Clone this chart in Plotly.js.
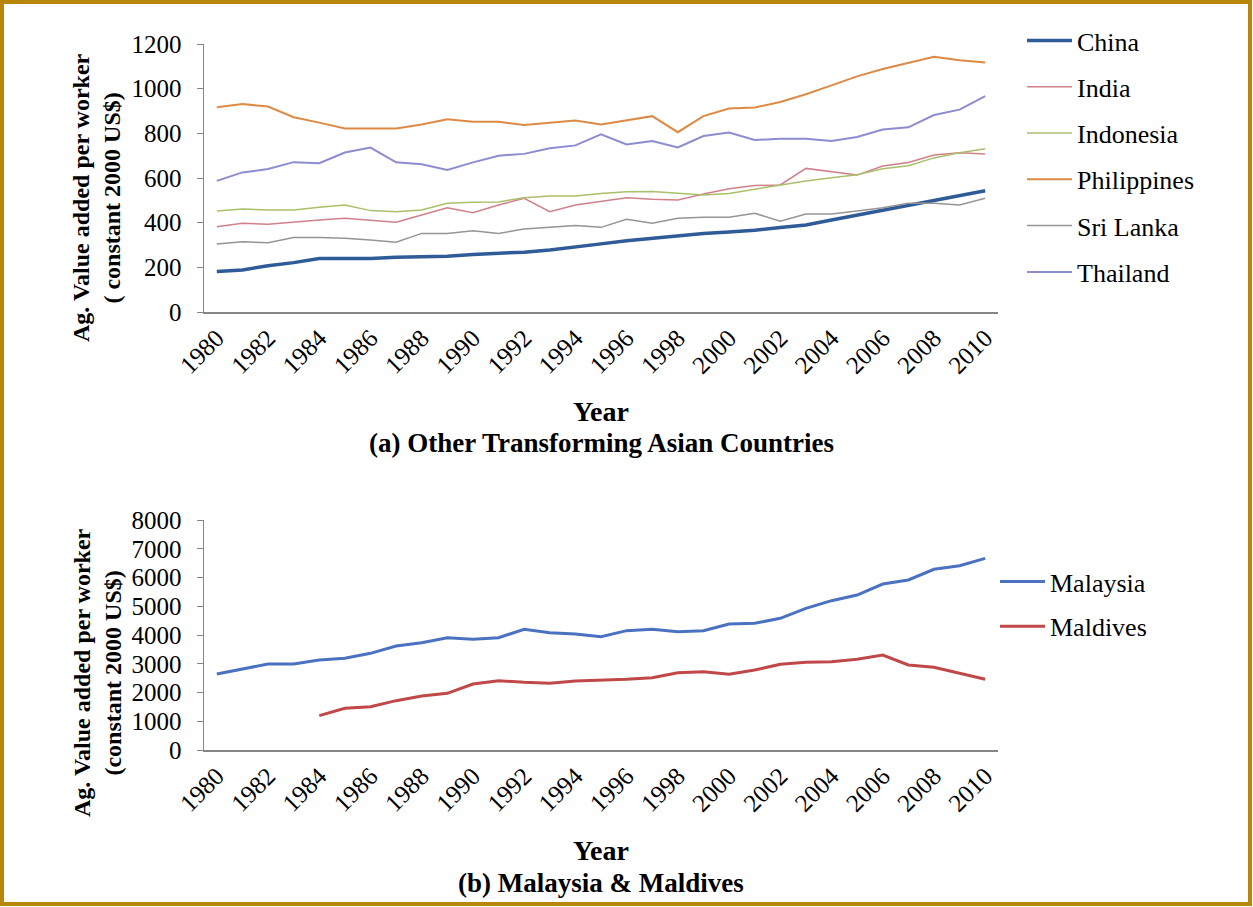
<!DOCTYPE html>
<html>
<head>
<meta charset="utf-8">
<script src="https://cdn.plot.ly/plotly-3.0.1.min.js"></script>
<style>
  body { margin: 0; background: #fff; }
  #chart { width: 1253px; height: 907px; }
  #frame {
    position: absolute; left: 0; top: 0; width: 1252px; height: 906px;
    box-sizing: border-box; border: 4px solid #b8860b; pointer-events: none;
  }
</style>
</head>
<body>
<div id="chart"></div>
<div id="frame"></div>
<script>
// Years shared by both panels
const years = [1980, 1981, 1982, 1983, 1984, 1985, 1986, 1987, 1988, 1989,
               1990, 1991, 1992, 1993, 1994, 1995, 1996, 1997, 1998, 1999,
               2000, 2001, 2002, 2003, 2004, 2005, 2006, 2007, 2008, 2009, 2010];
const yearTicks = [1980, 1982, 1984, 1986, 1988, 1990, 1992, 1994, 1996, 1998,
                   2000, 2002, 2004, 2006, 2008, 2010];

// Panel (a): Other transforming Asian countries
const china       = [181, 188, 207, 221, 240, 240, 240, 245, 246, 250, 258, 263, 268, 278, 290, 305, 319, 330, 342, 352, 358, 366, 378, 390, 412, 434, 456, 478, 500, 521, 543];
const india       = [382, 397, 393, 404, 412, 420, 412, 402, 434, 467, 445, 479, 509, 449, 479, 494, 512, 505, 502, 528, 552, 566, 569, 643, 628, 613, 654, 669, 703, 713, 708];
const indonesia   = [452, 461, 457, 457, 469, 479, 454, 449, 457, 487, 491, 493, 512, 519, 519, 531, 538, 539, 532, 524, 531, 549, 569, 587, 601, 615, 641, 655, 690, 713, 731];
const philippines = [917, 931, 920, 872, 848, 822, 822, 822, 840, 863, 852, 852, 837, 848, 857, 840, 860, 877, 805, 877, 911, 916, 940, 975, 1015, 1055, 1088, 1114, 1143, 1127, 1117];
const sriLanka    = [305, 315, 310, 334, 334, 330, 322, 312, 352, 352, 364, 352, 372, 379, 387, 379, 415, 397, 420, 424, 424, 442, 407, 439, 439, 452, 467, 487, 487, 479, 509];
const thailand    = [587, 625, 640, 671, 666, 714, 736, 670, 662, 636, 670, 700, 708, 733, 746, 796, 750, 766, 737, 788, 804, 770, 776, 776, 766, 784, 817, 827, 882, 906, 967];

// Panel (b): Malaysia & Maldives (Maldives starts 1984)
const malaysia = [2643, 2806, 2991, 2991, 3130, 3188, 3362, 3617, 3733, 3907, 3849, 3907, 4197, 4081, 4035, 3942, 4151, 4197, 4116, 4151, 4383, 4406, 4580, 4928, 5194, 5391, 5774, 5913, 6284, 6411, 6667];
const maldives = [null, null, null, null, 1194, 1449, 1507, 1716, 1878, 1971, 2296, 2411, 2354, 2319, 2400, 2423, 2458, 2516, 2690, 2725, 2632, 2783, 2980, 3049, 3072, 3154, 3304, 2957, 2876, 2667, 2458];

const serif = 'Liberation Serif';
const W = 1253, H = 907;
const px = v => v / W;
const py = v => 1 - v / H;

function line(name, y, color, width, xa, ya, legend) {
    return {
        x: years, y: y, name: name, type: 'scatter', mode: 'lines',
        line: { color: color, width: width },
        xaxis: xa, yaxis: ya, legend: legend, legendgroup: name
    };
}

const data = [
    line('China', china, '#2f5c98', 3.5, 'x', 'y', 'legend'),
    line('India', india, '#d08088', 1.5, 'x', 'y', 'legend'),
    line('Indonesia', indonesia, '#a9c06a', 1.5, 'x', 'y', 'legend'),
    line('Philippines', philippines, '#dd8a45', 2, 'x', 'y', 'legend'),
    line('Sri Lanka', sriLanka, '#959595', 1.5, 'x', 'y', 'legend'),
    line('Thailand', thailand, '#8c8cd0', 2, 'x', 'y', 'legend'),
    line('Malaysia', malaysia, '#4a72c0', 3, 'x2', 'y2', 'legend2'),
    line('Maldives', maldives, '#c04848', 3, 'x2', 'y2', 'legend2')
];

const xBase = {
    range: [1979.5, 2010.5], tickmode: 'array', tickvals: yearTicks,
    tickangle: -45, showgrid: false, zeroline: false,
    showline: true, linecolor: '#868686', linewidth: 1.5, ticks: '',
    tickfont: { family: serif, size: 25, color: '#000' },
    domain: [px(204), px(998)]
};
const yBase = {
    showgrid: false, zeroline: false, showline: true, linecolor: '#868686', linewidth: 1.5,
    ticks: 'outside', ticklen: 6, tickcolor: '#868686', ticklabelstandoff: 10,
    tickfont: { family: serif, size: 25, color: '#000' }
};

function note(text, x, y, size, angle) {
    return {
        text: text, xref: 'paper', yref: 'paper', x: px(x), y: py(y),
        xanchor: 'center', yanchor: 'middle', textangle: angle || 0,
        showarrow: false, font: { family: serif, size: size, color: '#000' }
    };
}

const layout = {
    width: W, height: H,
    margin: { l: 0, r: 0, t: 0, b: 0 },
    paper_bgcolor: '#fff', plot_bgcolor: '#fff',
    font: { family: serif, color: '#000' },
    xaxis: Object.assign({}, xBase, { anchor: 'y' }),
    yaxis: Object.assign({}, yBase, { range: [0, 1200], dtick: 200, anchor: 'x',
        domain: [py(312), py(44)] }),
    xaxis2: Object.assign({}, xBase, { anchor: 'y2' }),
    yaxis2: Object.assign({}, yBase, { range: [0, 8000], dtick: 1000, anchor: 'x2',
        domain: [py(750), py(520)] }),
    legend: {
        x: px(1022), y: py(17), xanchor: 'left', yanchor: 'top', itemwidth: 45,
        font: { family: serif, size: 26, color: '#000' },
        bgcolor: 'rgba(0,0,0,0)', tracegroupgap: 9.5, traceorder: 'grouped'
    },
    legend2: {
        x: px(995), y: py(558), xanchor: 'left', yanchor: 'top', itemwidth: 45,
        font: { family: serif, size: 26, color: '#000' },
        bgcolor: 'rgba(0,0,0,0)', tracegroupgap: 8, traceorder: 'grouped'
    },
    annotations: [
        note('<b>Ag. Value added per worker<br>( constant 2000 US$)</b>', 97, 197, 24, -90),
        note('<b>Ag. Value added per worker<br>(constant 2000 US$)</b>', 97, 672, 24, -90),
        note('<b>Year</b>', 601, 411, 28),
        note('<b>Year</b>', 601, 850, 28),
        note('<b>(a) Other Transforming Asian Countries</b>', 601, 443, 27),
        note('<b>(b) Malaysia & Maldives</b>', 601, 883, 27)
    ]
};

Plotly.newPlot('chart', data, layout, { staticPlot: true });
</script>
</body>
</html>
